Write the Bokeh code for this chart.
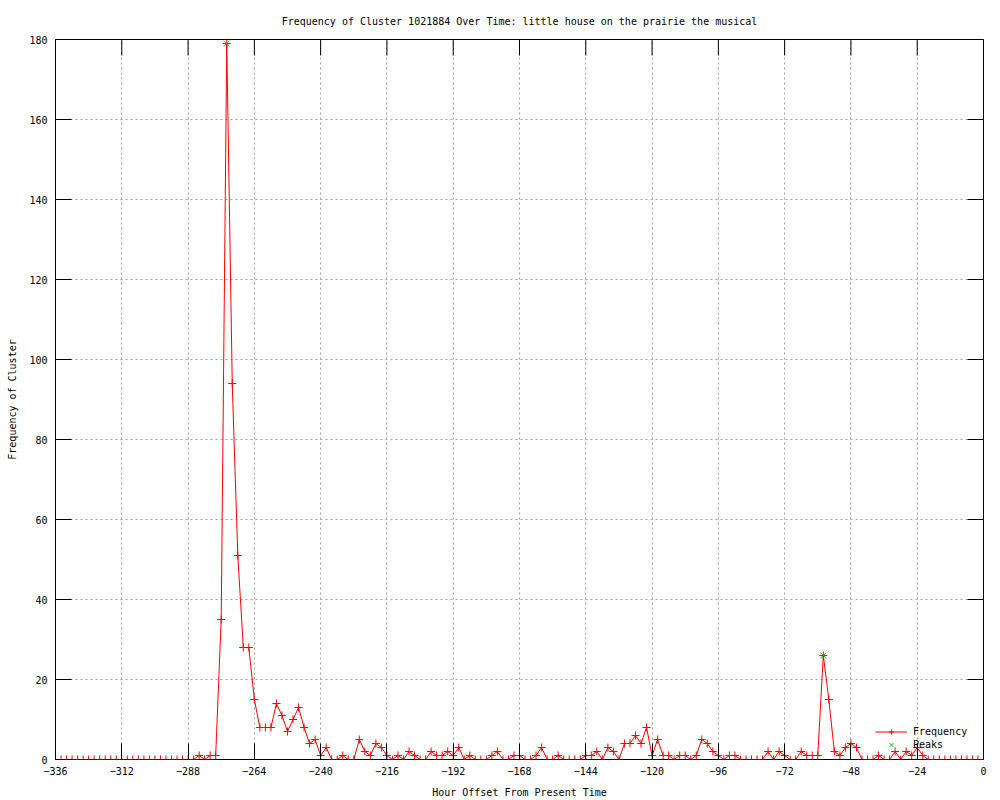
import math
from bokeh.plotting import figure
from bokeh.models import (Range1d, FixedTicker, LinearAxis, Span, Legend, LegendItem,
                          ColumnDataSource)
from bokeh.embed import file_html
from bokeh.resources import INLINE

# ---- data -------------------------------------------------------------
hours = list(range(-336, 1, 2))
frequency = (
    [0] * 26 +                                   # -336 .. -286
    [1, 0, 1, 1, 35, 179, 94, 51, 28, 28,        # -284 .. -266
     15, 8, 8, 8, 14, 11, 7, 10, 13, 8,          # -264 .. -246
     4, 5, 1, 3, 0, 0, 1, 0, 0, 5,               # -244 .. -226
     2, 1, 4, 3, 1, 0, 1, 0, 2, 1,               # -224 .. -206
     0, 0, 2, 1, 1, 2, 1, 3, 0, 1,               # -204 .. -186
     0, 0, 0, 1, 2, 0, 0, 1, 1, 0,               # -184 .. -166
     0, 1, 3, 0, 0, 1, 0, 0, 0, 0,               # -164 .. -146
     1, 1, 2, 0, 3, 2, 0, 4, 4, 6,               # -144 .. -126
     4, 8, 1, 5, 1, 1, 0, 1, 1, 0,               # -124 .. -106
     1, 5, 4, 2, 1, 0, 1, 1, 0, 0,               # -104 .. -86
     0, 0, 0, 2, 0, 2, 1, 0, 0, 2,               # -84 .. -66
     1, 1, 1, 26, 15, 2, 1, 3, 4, 3,             # -64 .. -46
     0, 0, 0, 1, 0, 0, 2, 0, 2, 1,               # -44 .. -26
     3, 1] +                                     # -24 .. -22
    [0] * 11                                     # -20 .. 0
)
peak_hours = [-274, -58]
peak_values = [179, 26]

x_ticks = list(range(-336, 1, 24))
y_ticks = list(range(0, 181, 20))
X_MIN, X_MAX = -336, 0
Y_MIN, Y_MAX = 0, 180

title_text = "Frequency of Cluster 1021884 Over Time: little house on the prairie the musical"
x_label = "Hour Offset From Present Time"
y_label = "Frequency of Cluster"

FONT = "DejaVu Sans Mono"
FS = "10px"
TICK = 16

# ---- figure -----------------------------------------------------------
p = figure(width=1000, height=800, output_backend="svg", toolbar_location=None,
           x_range=Range1d(X_MIN, X_MAX), y_range=Range1d(Y_MIN, Y_MAX),
           min_border_left=55, min_border_right=17, min_border_top=39,
           min_border_bottom=40, x_axis_location=None, y_axis_location=None)

p.title.text = title_text
p.title.align = "center"
p.title.text_font = FONT
p.title.text_font_size = FS
p.title.text_font_style = "normal"
p.title.text_color = "black"
p.title.standoff = 26

p.outline_line_color = "black"
p.outline_line_width = 1
p.outline_line_alpha = 1
p.background_fill_color = "white"
p.border_fill_color = "white"


def make_axis(ticks):
    ax = LinearAxis(ticker=FixedTicker(ticks=ticks))
    ax.major_tick_in = TICK
    ax.major_tick_out = 0
    ax.minor_tick_in = 0
    ax.minor_tick_out = 0
    ax.major_tick_line_color = "black"
    ax.axis_line_color = None
    ax.major_label_text_font = FONT
    ax.major_label_text_font_size = FS
    ax.major_label_text_color = "black"
    ax.axis_label_text_font = FONT
    ax.axis_label_text_font_size = FS
    ax.axis_label_text_font_style = "normal"
    ax.axis_label_text_color = "black"
    return ax


xb = make_axis(x_ticks)
xb.axis_label = x_label
xb.major_label_standoff = 7
xb.axis_label_standoff = 9
p.add_layout(xb, "below")

yl = make_axis(y_ticks)
yl.axis_label = y_label
yl.major_label_standoff = 8
yl.axis_label_standoff = 8
p.add_layout(yl, "left")

# mirrored inward ticks on top and right borders
p.ray(x=x_ticks, y=[Y_MAX] * len(x_ticks), length=TICK, length_units="screen",
      angle=-math.pi / 2, line_color="black", line_width=1)
p.ray(x=[X_MAX] * len(y_ticks), y=y_ticks, length=TICK, length_units="screen",
      angle=math.pi, line_color="black", line_width=1)

p.xgrid.ticker = FixedTicker(ticks=x_ticks)
p.ygrid.ticker = FixedTicker(ticks=y_ticks)
for g in (p.xgrid, p.ygrid):
    g.grid_line_color = "#a0a0a0"
    g.grid_line_dash = "2 3"
    g.grid_line_width = 1

# ---- data glyphs ------------------------------------------------------
src = ColumnDataSource(dict(x=hours, y=frequency))
psrc = ColumnDataSource(dict(x=peak_hours, y=peak_values))

r_line = p.line("x", "y", source=src, line_color="#ff0000", line_width=1)
r_pts = p.scatter("x", "y", source=src, marker="cross", size=8,
                  line_color="#ff0000", line_width=1)
r_peak = p.scatter("x", "y", source=psrc, marker="x", size=8,
                   line_color="#00c000", line_width=1)

p.add_layout(Span(location=0, dimension="width", line_color="black",
                  line_width=1, level="overlay"))

legend = Legend(items=[LegendItem(label="Frequency", renderers=[r_line, r_pts]),
                       LegendItem(label="Peaks", renderers=[r_peak])],
                location=(818, 6), orientation="vertical")
legend.label_text_font = FONT
legend.label_text_font_size = FS
legend.label_text_color = "black"
legend.background_fill_alpha = 0
legend.border_line_alpha = 0
legend.glyph_width = 32
legend.glyph_height = 13
legend.label_height = 13
legend.spacing = 0
legend.padding = 2
legend.margin = 0
legend.label_standoff = 6
p.add_layout(legend, "center")

open("out.html", "w").write(file_html(p, INLINE))
